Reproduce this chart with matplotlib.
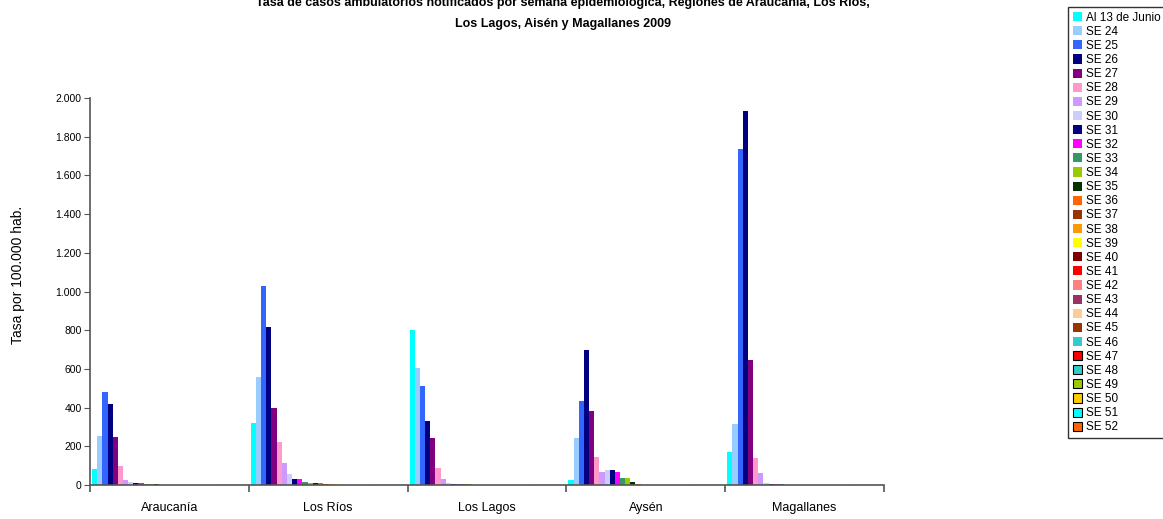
import numpy as np
import matplotlib
matplotlib.use("Agg")
import matplotlib.pyplot as plt
from matplotlib.ticker import FuncFormatter, FixedLocator

plt.rcParams['font.family'] = ['Liberation Sans', 'DejaVu Sans']

regions = ['Araucanía', 'Los Ríos', 'Los Lagos', 'Aysén', 'Magallanes']
series = ['Al 13 de Junio'] + [f'SE {w}' for w in range(24, 53)]

# values per region, one per series (Al 13 de Junio, SE 24 ... SE 52)
araucania = [81, 255, 482, 417, 250, 100, 27, 17, 12, 12, 6, 6, 6] + [0] * 17
los_rios = [320, 558, 1028, 817, 398, 222, 114, 57, 31, 31, 16, 10, 10, 10, 5, 5, 5] + [0] * 13
los_lagos = [801, 605, 512, 331, 243, 88, 31, 10, 5, 5, 5, 5] + [0] * 18
aysen = [26, 243, 434, 698, 382, 145, 67, 78, 78, 67, 36, 36, 15, 5] + [0] * 16
magallanes = [172, 317, 1738, 1934, 648, 141, 64, 12, 7, 7, 7] + [0] * 19

colors = ['#00FFFF', '#99CCFF', '#3366FF', '#000080', '#800080', '#FF99CC',
          '#CC99FF', '#CCCCFF', '#000080', '#FF00FF', '#339966', '#99CC00',
          '#003300', '#FF6600', '#993300', '#FF9900', '#FFFF00', '#800000',
          '#FF0000', '#FF8080', '#993366', '#FFCC99', '#993300', '#33CCCC',
          '#FF0000', '#33CCCC', '#99CC00', '#FFCC00', '#00FFFF', '#FF6600']
edged = set(range(24, 30))

data = np.array([araucania, los_rios, los_lagos, aysen, magallanes])

fig = plt.figure(figsize=(11.63, 5.19), dpi=100)
ax = fig.add_axes([90 / 1163, 34 / 519, 794 / 1163, 387 / 519])

n = len(series)
w = 1 / (n + 0.8)
x = np.arange(len(regions))
for i in range(n):
    ec = 'black' if i in edged else 'none'
    ax.bar(x - n * w / 2 + (i + 0.5) * w, data[:, i], width=w, color=colors[i],
           edgecolor=ec, linewidth=0.8 if i in edged else 0, label=series[i])

ax.set_xlim(-0.5, len(regions) - 0.5)
ax.set_ylim(0, 2000)
ax.set_yticks(range(0, 2001, 200))
ax.yaxis.set_major_formatter(FuncFormatter(lambda v, p: f'{int(v):,}'.replace(',', '.')))
ax.set_xticks(x)
ax.set_xticklabels(regions, fontsize=9)
ax.xaxis.set_minor_locator(FixedLocator(np.arange(-0.5, len(regions), 1)))
ax.tick_params(axis='x', which='major', length=0, pad=12)
ax.tick_params(axis='x', which='minor', length=5, color='#555555', width=1.2)
ax.tick_params(axis='y', length=4, color='#555555', labelsize=7.5, pad=2)
for s in ['top', 'right']:
    ax.spines[s].set_visible(False)
for s in ['left', 'bottom']:
    ax.spines[s].set_color('#555555')
    ax.spines[s].set_linewidth(1.2)

fig.text(18 / 1163, 1 - 275 / 519, 'Tasa por 100.000 hab.', rotation=90,
         ha='center', va='center', fontsize=10)

fig.text(563 / 1163, 1 - 3 / 519,
         'Tasa de casos ambulatorios notificados por semana epidemiológica, Regiones de Araucanía, Los Ríos,',
         ha='center', va='center', fontsize=9, fontweight='bold')
fig.text(563 / 1163, 1 - 24 / 519, 'Los Lagos, Aisén y Magallanes 2009',
         ha='center', va='center', fontsize=9, fontweight='bold')

leg = fig.legend(loc='upper left', bbox_to_anchor=(1068 / 1163, 1 - 7 / 519),
                 fontsize=8.5, frameon=True, fancybox=False, edgecolor='black',
                 handlelength=0.8, handleheight=0.8, handletextpad=0.3,
                 labelspacing=0.18, borderpad=0.4, borderaxespad=0)
leg.get_frame().set_linewidth(1)

fig.savefig('out.png', dpi=100)
